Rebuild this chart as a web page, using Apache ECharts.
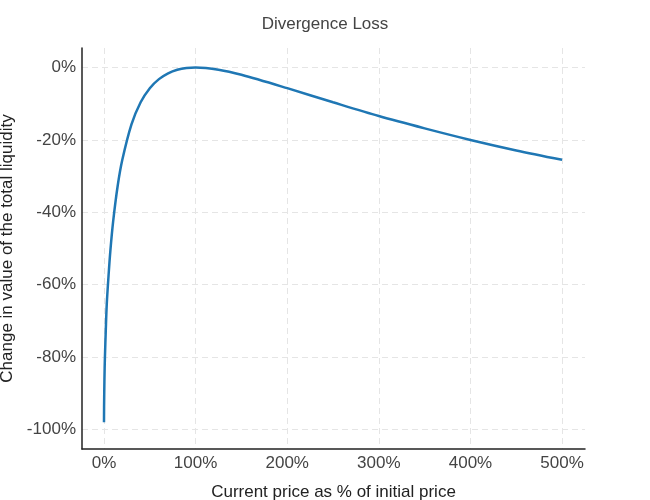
<!DOCTYPE html>
<html><head><meta charset="utf-8">
<script src="https://cdn.jsdelivr.net/npm/echarts@6/dist/echarts.min.js"></script>
<style>body{margin:0}#c{width:650px;height:500px}</style></head>
<body><div id="c"></div>
<script>
const priceRatio = [0.01,0.1,0.5,1,2,3,5,7,10,15,20,30,40,50,60,70,80,90,100,125,150,200,250,300,350,400,450,500];
const lossPct = [-98,-93.7,-85.9,-80.2,-72.3,-65.5,-57.4,-50.5,-42.5,-32.6,-25.5,-15.7,-9.6,-5.7,-3.2,-1.6,-0.6,-0.1,0,-0.6,-2.0,-5.7,-9.6,-13.4,-16.8,-20,-22.9,-25.5];
const xTicks = [0,100,200,300,400,500];
const yTicks = [-100,-80,-60,-40,-20,0];
const font = 'Liberation Sans, Arial, sans-serif';
const chart = echarts.init(document.getElementById('c'));
const splitStyle = {show:true,lineStyle:{color:'#e5e5e5',type:[6,4],width:1}};
chart.setOption({
  animation:false,
  title:{text:'Divergence Loss',left:'center',top:11,textStyle:{fontFamily:font,fontSize:17,fontWeight:'normal',color:'#444'}},
  grid:{left:82,right:65,top:48,bottom:51,containLabel:false,outerBoundsMode:'none'},
  xAxis:{type:'value',min:-24,max:525,name:'Current price as % of initial price',nameLocation:'middle',nameGap:35,
    nameTextStyle:{fontFamily:font,fontSize:17,color:'#222'},
    axisLine:{show:true,onZero:false,lineStyle:{color:'#222',width:1.5}},
    axisTick:{show:false,customValues:xTicks},
    axisLabel:{customValues:xTicks,formatter:v=>v+'%',fontFamily:font,fontSize:17,color:'#444',margin:6},
    splitLine:splitStyle},
  yAxis:{type:'value',min:-105.4,max:5.4,name:'Change in value of the total liquidity',nameLocation:'middle',nameGap:64,
    nameTextStyle:{fontFamily:font,fontSize:17,color:'#222'},
    axisLine:{show:true,onZero:false,lineStyle:{color:'#222',width:1.5}},
    axisTick:{show:false,customValues:yTicks},
    axisLabel:{customValues:yTicks,formatter:v=>v+'%',fontFamily:font,fontSize:17,color:'#444',margin:6},
    splitLine:splitStyle},
  series:[{type:'line',showSymbol:false,smooth:0.3,data:priceRatio.map((x,i)=>[x,lossPct[i]]),
    lineStyle:{color:'#1f77b4',width:2.5}}]
});
</script></body></html>
